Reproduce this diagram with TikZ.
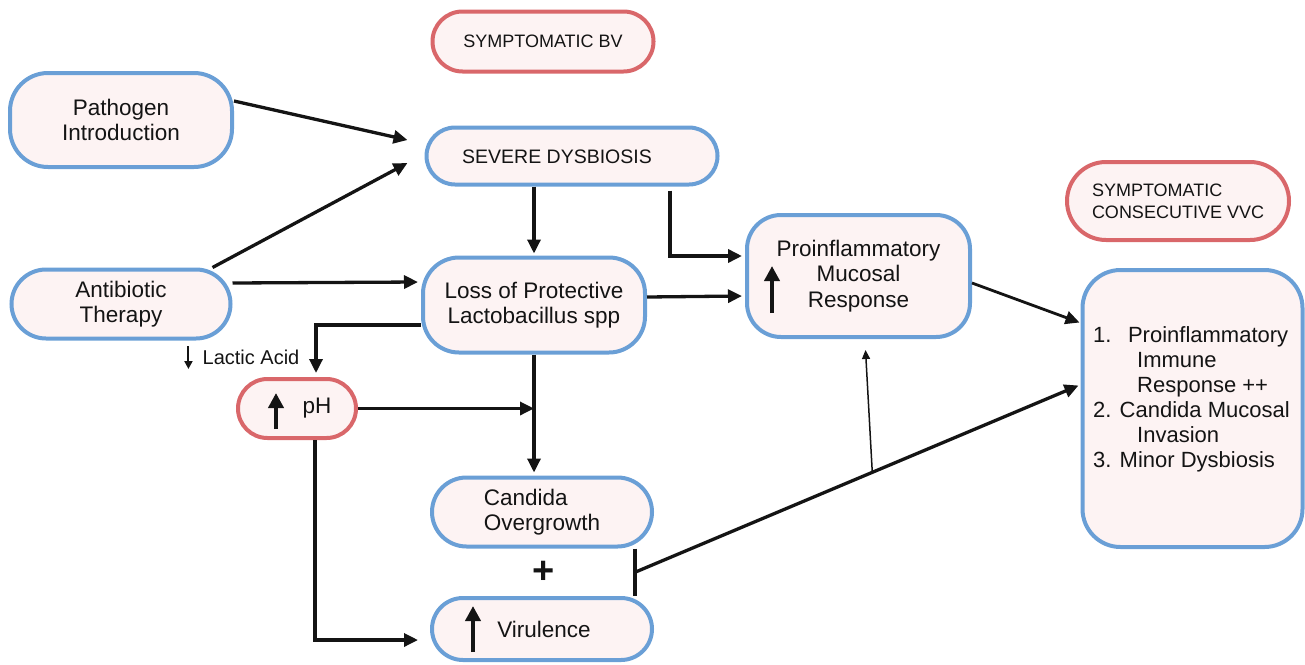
\documentclass[tikz,border=0pt]{standalone}
\usepackage{fontspec}
\setmainfont{Liberation Sans}
\usetikzlibrary{arrows.meta,calc}
\definecolor{bfill}{HTML}{FDF3F3}
\definecolor{bblue}{HTML}{6A9FD6}
\definecolor{bred}{HTML}{D9676A}
\definecolor{ink}{HTML}{141414}
\begin{document}
\begin{tikzpicture}[x=1pt,y=-1pt,
  box/.style={draw=bblue, line width=4pt, fill=bfill, inner sep=0pt, align=center, text=ink,
    font=\fontsize{22.5}{25.5}\selectfont},
  rbox/.style={box, draw=bred, font=\fontsize{18}{22}\selectfont},
  txt/.style={inner sep=0pt, text=ink, font=\fontsize{22.5}{25.5}\selectfont},
  conn/.style={draw=ink, line width=3.3pt, -{Triangle[length=14pt,width=13pt]}},
  thinconn/.style={draw=ink, line width=1.5pt, -{Triangle[length=9pt,width=8pt]}},
  plainline/.style={draw=ink, line width=3.3pt},
  icon/.style={draw=ink, line width=4.5pt, -{Triangle[length=15pt,width=15pt]}},
  smallicon/.style={draw=ink, line width=2pt, -{Triangle[length=8pt,width=8pt]}}
]
\useasboundingbox (0,0) rectangle (1305,664);

% boxes
\node[rbox, minimum width=221pt, minimum height=60pt, rounded corners=30pt] (bv) at (543,41.5) {SYMPTOMATIC BV};
\node[box, minimum width=222pt, minimum height=94pt, rounded corners=38pt] (path) at (121,120) {Pathogen\\Introduction};
\node[box, minimum width=291pt, minimum height=57pt, rounded corners=28.5pt] (sev) at (572,156) {};
\node[txt, font=\fontsize{19.5}{24}\selectfont] (sevt) at (557,157) {SEVERE DYSBIOSIS};
\node[box, minimum width=219pt, minimum height=69pt, rounded corners=34.5pt] (anti) at (121,304) {Antibiotic\\Therapy};
\node[box, minimum width=222pt, minimum height=95pt, rounded corners=36pt] (loss) at (534,305) {Loss of Protective\\Lactobacillus spp};
\node[box, minimum width=223pt, minimum height=122pt, rounded corners=34pt] (pro) at (858.5,276) {Proinflammatory\\Mucosal\\Response};
\node[rbox, align=left, minimum width=222pt, minimum height=78pt, rounded corners=39pt] (vvc) at (1178,201) {SYMPTOMATIC\\CONSECUTIVE VVC};
\node[box, minimum width=220pt, minimum height=277pt, rounded corners=38pt] (big) at (1192.5,408.5) {};
\node[txt, anchor=west, align=left, font=\fontsize{22}{25}\selectfont] (bigt) at (1093,399.5) {1.\hspace{16.5pt}Proinflammatory\\\hspace*{44pt}Immune\\\hspace*{44pt}Response ++\\2. Candida Mucosal\\\hspace*{44pt}Invasion\\3. Minor Dysbiosis};
\node[rbox, font=\fontsize{22.5}{25}\selectfont, minimum width=118pt, minimum height=59pt, rounded corners=29.5pt] (ph) at (297,408.5) {\hspace*{40pt}pH};
\node[box, align=left, minimum width=220pt, minimum height=69pt, rounded corners=34.5pt] (cand) at (542,512) {Candida\\Overgrowth};
\node[box, minimum width=220pt, minimum height=62pt, rounded corners=31pt] (vir) at (542,629) {\hspace*{4pt}Virulence};
\node[txt, font=\bfseries\fontsize{38}{38}\selectfont] (plus) at (544,572) {+};
\node[txt, font=\fontsize{20}{24}\selectfont] (lactic) at (251,357) {Lactic Acid};

% icons
\draw[icon] (772,313) -- (772,266);
\draw[icon] (276,429) -- (276,393);
\draw[icon] (473,652) -- (473,606);
\draw[smallicon] ($(lactic.west)+(-14,-11)$) -- ($(lactic.west)+(-14,12)$);

% connectors
\draw[conn] ($(path.east)+(0,-19)$) -- ($(sev.west)+(-17,-16)$);
\draw[conn] ($(anti.north east)+(-20,0)$) -- ($(sev.west)+(-17,7)$);
\draw[conn] ($(anti.east)+(0,-21)$) -- ($(loss.west)+(-3,-23)$);
\draw[conn, shorten >=2pt] (loss.north |- sev.south) -- (loss.north);
\draw[conn, line width=4pt] ($(sev.south east)+(-50,4)$) |- ($(pro.west)+(-3,-20)$);
\draw[conn] ($(loss.east)+(0,-8)$) -- ($(pro.west)+(-3,20)$);
\draw[conn] ($(loss.west)+(0,20)$) -| ($(ph.north)+(19,-4)$);
\draw[conn] (ph.east) -- (ph.east -| loss.south);
\draw[conn, shorten >=3pt] (loss.south) -- (loss.south |- cand.north);
\draw[conn] ($(ph.south)+(18,0)$) |- ($(vir.west)+(-12,11)$);
\coordinate (brtop) at ($(cand.south east)+(-19,0)$);
\coordinate (brbot) at ($(vir.north east)+(-19,0)$);
\draw[plainline] (brtop) -- (brbot);
\coordinate (brmid) at ($(brtop)!0.5!(brbot)$);
\coordinate (tip) at ($(big.west)+(-2,-23)$);
\draw[conn] (brmid) -- (tip);
\coordinate (mid2) at ($(brmid)!0.535!(tip)$);
\draw[thinconn] (mid2) -- ($(pro.south)+(7,11)$);
\draw[conn, line width=2.8pt] ($(pro.east)+(0,7)$) -- ($(big.west)+(-1,-86)$);
\end{tikzpicture}
\end{document}
